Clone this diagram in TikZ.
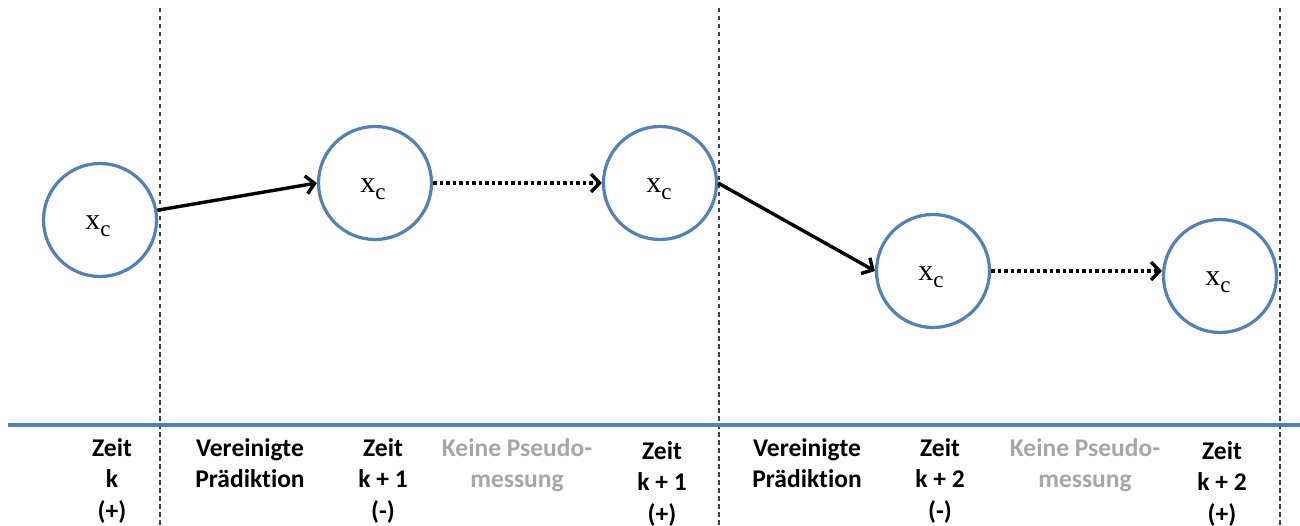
\documentclass[tikz,border=0pt]{standalone}
\usepackage{fontspec}
\setmainfont[Ligatures=NoCommon]{Carlito}
\newfontfamily\xcserif{Liberation Serif}
\usetikzlibrary{arrows.meta}
\definecolor{cblue}{HTML}{4F81BD}
\definecolor{cgray}{HTML}{A6A6A6}
\definecolor{sepgray}{HTML}{404040}
\newcommand\xcsym{{\xcserif\fontsize{30}{30}\selectfont x\raisebox{-7pt}{\fontsize{23}{23}\selectfont c}}}
\begin{document}
\begin{tikzpicture}[x=1pt,y=-1pt,
  state/.style={circle, draw=cblue, line width=3.2pt, minimum size=113pt, inner sep=0pt},
  lbl/.style={font=\bfseries\fontsize{25.5}{31.5}\selectfont, align=center, text=black, anchor=north, inner sep=0pt},
  greylbl/.style={lbl, text=cgray},
  sep/.style={draw=sepgray, line width=1.1pt, dash pattern=on 4.5pt off 3.5pt},
  arr/.style={line width=3.4pt, -{Straight Barb[length=8.5pt,width=18pt]}},
  dotarr/.style={arr, dash pattern=on 3.5pt off 3pt}
]
\useasboundingbox (0,0) rectangle (1300,526);
% separators
\coordinate (d1t) at (160,8);  \coordinate (d1b) at (160,526);
\coordinate (d2t) at (719,8);  \coordinate (d2b) at (719,526);
\coordinate (d3t) at (1280,8); \coordinate (d3b) at (1280,526);
\draw[sep] (d1t) -- (d1b);
\draw[sep] (d2t) -- (d2b);
\draw[sep] (d3t) -- (d3b);
% timeline
\coordinate (bl) at (8,425); \coordinate (br) at (1300,425);
\draw[cblue, line width=3.2pt] (bl) -- (br);
% states
\node[state] (c1) at (100,220) {};
\node[state] (c2) at (375,183) {};
\node[state] (c3) at (660,183) {};
\node[state] (c4) at (933,271) {};
\node[state] (c5) at (1220,276) {};
\node (t1) at (98,226) {\xcsym};
\node (t2) at (373,189) {\xcsym};
\node (t3) at (659,189) {\xcsym};
\node (t4) at (931,277) {\xcsym};
\node (t5) at (1218,282) {\xcsym};
% arrows
\draw[arr] (c1) -- (c2.west);
\draw[dotarr] (c2) -- (c3);
\draw[arr] (c3.east) -- (c4.west);
\draw[dotarr] (c4.east) -- (c4.east -| c5.west);
% labels
\node[lbl] (l1) at (112,438) {Zeit\\k\\(+)};
\node[lbl] (l2) at (250,438) {Vereinigte\\Prädiktion};
\node[lbl] (l3) at (383,438) {Zeit\\k + 1\\(-)};
\node[greylbl] (l4) at (517,438) {Keine Pseudo-\\messung};
\node[lbl] (l5) at (662,441) {Zeit\\k + 1\\(+)};
\node[lbl] (l6) at (807,438) {Vereinigte\\Prädiktion};
\node[lbl] (l7) at (940,438) {Zeit\\k + 2\\(-)};
\node[greylbl] (l8) at (1085,438) {Keine Pseudo-\\messung};
\node[lbl] (l9) at (1222,441) {Zeit\\k + 2\\(+)};
\end{tikzpicture}
\end{document}
